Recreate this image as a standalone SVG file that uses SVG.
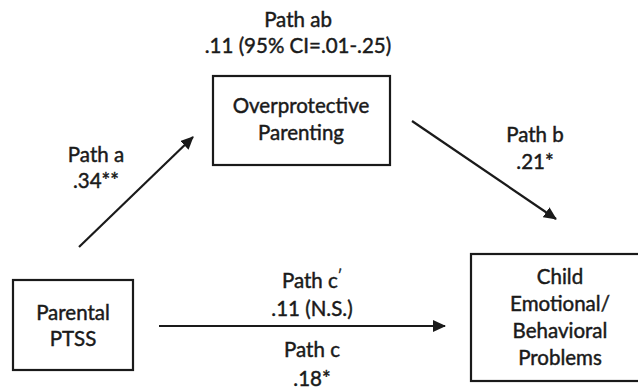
<svg xmlns="http://www.w3.org/2000/svg" width="638" height="392" viewBox="0 0 638 392">
  <style>
    text { font-family: Lato, "Open Sans", "Liberation Sans", sans-serif; font-size: 20.5px; fill: #1a1a1a; stroke: #1a1a1a; stroke-width: 0.45; text-anchor: middle; }
    .box { fill: #ffffff; stroke: #1a1a1a; stroke-width: 2.2; }
    .edge { stroke: #1a1a1a; stroke-width: 2.2; fill: none; marker-end: url(#arrow); }
  </style>
  <defs>
    <marker id="arrow" markerUnits="userSpaceOnUse" markerWidth="14" markerHeight="12" refX="12" refY="6" orient="auto">
      <path d="M0,0 L13,6 L0,12 Z" fill="#1a1a1a"/>
    </marker>
  </defs>
  <rect width="638" height="392" fill="#ffffff"/>

  <g id="connectors">
    <line class="edge" x1="79" y1="247" x2="193" y2="137"/>
    <line class="edge" x1="412" y1="121" x2="556" y2="219"/>
    <line class="edge" x1="159" y1="326" x2="445" y2="326"/>
  </g>

  <g id="label-ab">
    <text x="298" y="27">Path ab</text>
    <text x="298" y="53">.11 (95% CI=.01-.25)</text>
  </g>
  <g id="label-a">
    <text x="96" y="162">Path a</text>
    <text x="96" y="188">.34**</text>
  </g>
  <g id="label-b">
    <text x="535" y="142">Path b</text>
    <text x="535" y="169">.21*</text>
  </g>
  <g id="label-c">
    <text x="312" y="288">Path c<tspan font-size="13" dy="-8">′</tspan></text>
    <text x="312" y="316">.11 (N.S.)</text>
    <text x="312" y="357">Path c</text>
    <text x="312" y="386">.18*</text>
  </g>

  <g id="node-overprotective">
    <rect class="box" x="213" y="76" width="177" height="89"/>
    <text x="301" y="113">Overprotective</text>
    <text x="301" y="140">Parenting</text>
  </g>
  <g id="node-parental">
    <rect class="box" x="13" y="280" width="120" height="90"/>
    <text x="73" y="320">Parental</text>
    <text x="73" y="346">PTSS</text>
  </g>
  <g id="node-child">
    <rect class="box" x="471" y="254" width="170" height="127"/>
    <text x="560" y="284">Child</text>
    <text x="560" y="311">Emotional/</text>
    <text x="560" y="338">Behavioral</text>
    <text x="560" y="365">Problems</text>
  </g>
</svg>
